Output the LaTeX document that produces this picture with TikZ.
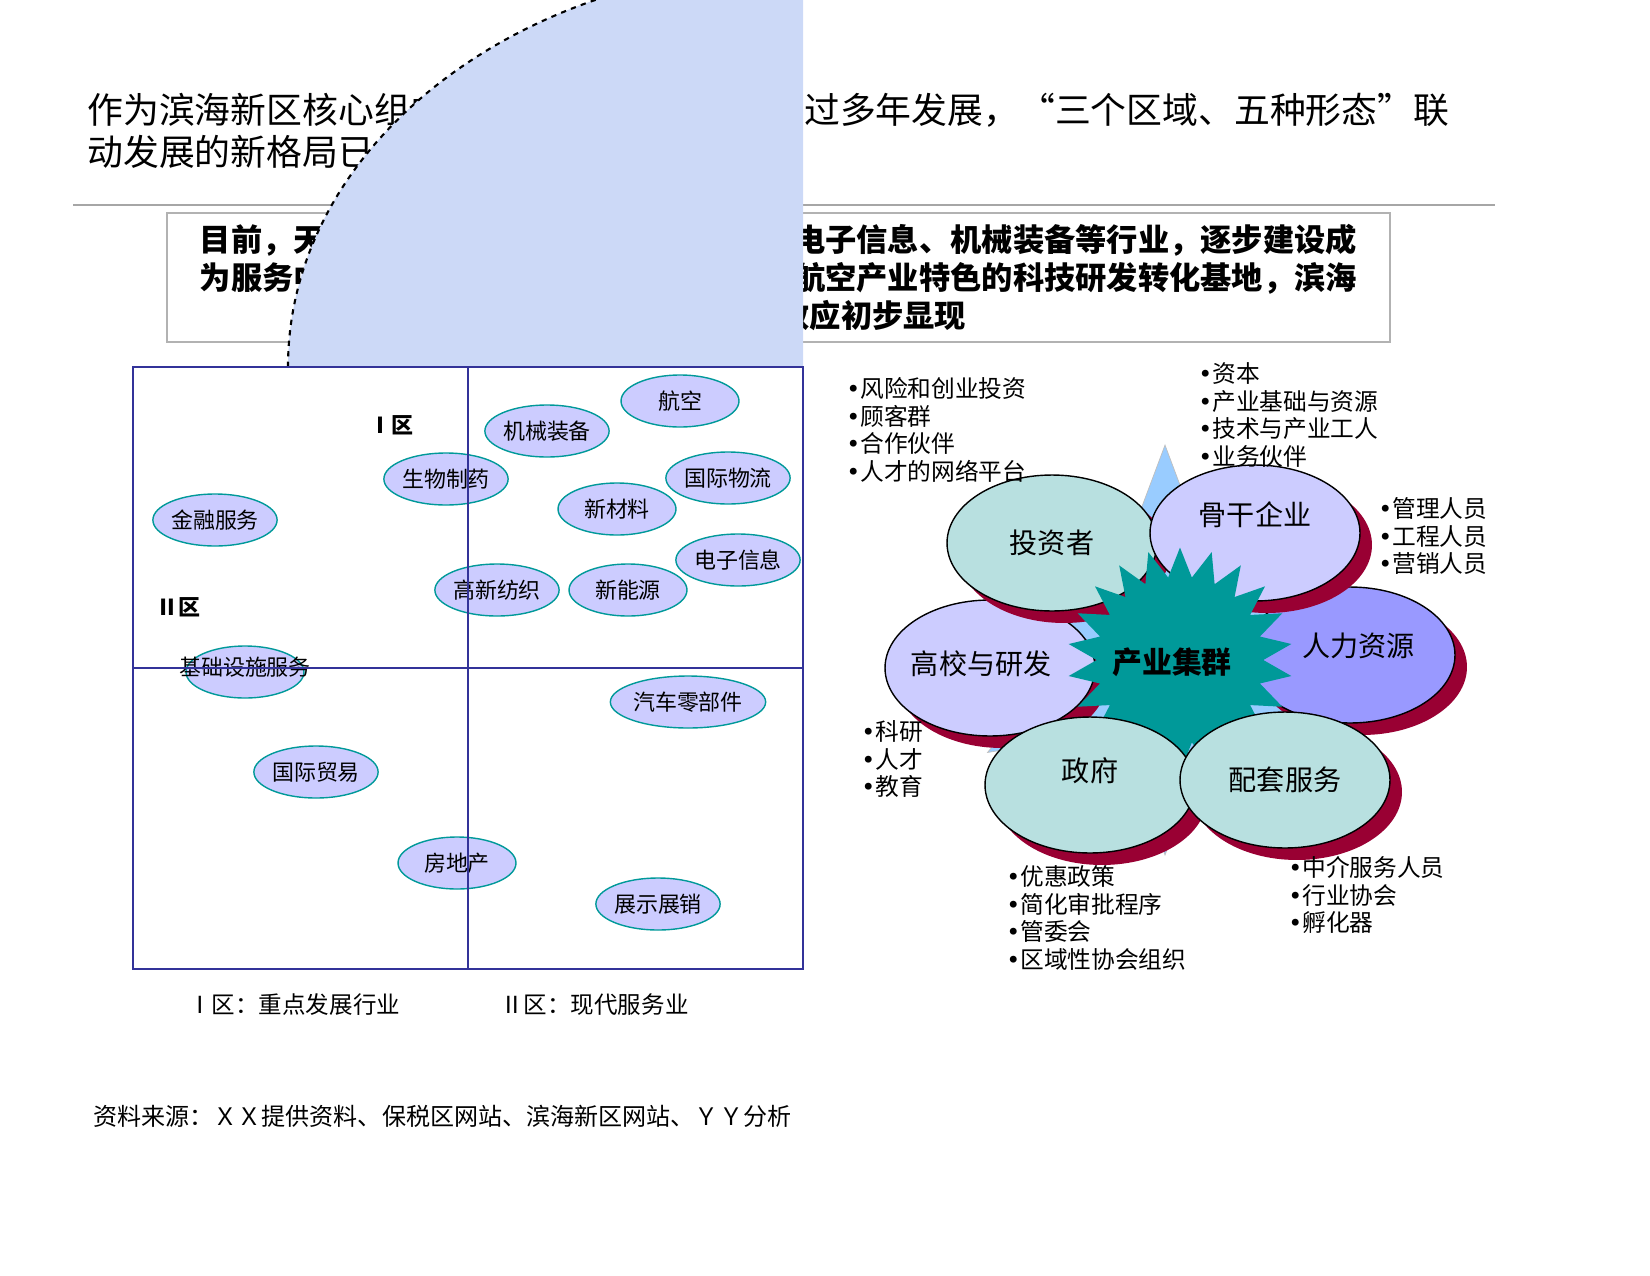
\documentclass[tikz,border=0pt]{standalone}
\usepackage{fontspec}
\setmainfont{Noto Sans CJK SC}
\newfontfamily\bulfont{DejaVu Sans}
\usetikzlibrary{shapes.geometric}
\definecolor{frameblue}{HTML}{333399}
\definecolor{zonefill}{HTML}{CCD9F7}
\definecolor{pillfill}{HTML}{CCCCFF}
\definecolor{pillline}{HTML}{009999}
\definecolor{tealfill}{HTML}{B8E0E0}
\definecolor{lilacfill}{HTML}{CCCCFF}
\definecolor{violetfill}{HTML}{9999FF}
\definecolor{shadowred}{HTML}{990033}
\definecolor{starteal}{HTML}{009999}
\definecolor{starblue}{HTML}{99CCFF}
\newcommand{\bul}{{\bulfont •}}
\tikzset{%
	pill/.style={
		ellipse,
		draw=pillline,
		thick,
		fill=pillfill,
		minimum width=2.36cm,
		minimum height=1.04cm,
		inner sep=0pt,
		font=\fontsize{12.5}{15}\selectfont
	},
	bigell/.style={
		ellipse,
		draw=black,
		thick,
		minimum width=4.2cm,
		minimum height=2.72cm,
		inner sep=0pt,
		font=\fontsize{16}{19}\selectfont
	},
	bigshade/.style={
		ellipse,
		fill=shadowred,
		minimum width=4.2cm,
		minimum height=2.72cm,
		inner sep=0pt
	},
	bullets/.style={
		anchor=north west,
		align=left,
		inner sep=0pt,
		font=\fontsize{13.5}{15.8}\selectfont
	},
}
\begin{document}
\begin{tikzpicture}[x=0.02cm, y=-0.02cm]
	\useasboundingbox (0,0) rectangle (1650,1275);

	% title
	\node[anchor=west, align=left, inner sep=0pt, font=\fontsize{20.4}{23.5}\selectfont] (title) at (87,131)
		{作为滨海新区核心组成部分的天津保税区，经过多年发展，“三个区域、五种形态”联\\动发展的新格局已经初具雏形};
	\draw[gray!70, thick] (73,205) -- (1495,205);
	\node[draw=gray!60, thick, minimum width=24.46cm, minimum height=2.58cm, inner sep=0pt] (box) at (778.5,277.5) {};
	\node[align=center, font=\bfseries\fontsize{17.8}{21.6}\selectfont] (boxtext) at (box.center)
		{目前，天津保税区正围绕国际物流、航空、电子信息、机械装备等行业，逐步建设成\\为服务中国北方的保税国际物流中心，具有航空产业特色的科技研发转化基地，滨海\\新区产业集群效应初步显现};

	% matrix
	\fill[zonefill] (288,367) arc[start angle=180, end angle=270, x radius=515, y radius=401] -- (803,367) -- cycle;
	\draw[very thick, dashed] (288,367) arc[start angle=180, end angle=270, x radius=515, y radius=401];
	\node[pill] (hk) at (680,401) {航空};
	\node[pill] (jx) at (547,431) {机械装备};
	\node[pill] (sw) at (446,479) {生物制药};
	\node[pill] (wl) at (728,478) {国际物流};
	\node[pill] (xc) at (617,509) {新材料};
	\node[pill] (jr) at (215,520) {金融服务};
	\node[pill] (dz) at (738,560) {电子信息};
	\node[pill] (fz) at (497,590) {高新纺织};
	\node[pill] (ny) at (628,590) {新能源};
	\node[pill] (jc) at (245,672) {};
	\node (jct) at (245,667) {\fontsize{12.5}{15}\selectfont 基础设施服务};
	\node[pill] (qc) at (688,702) {汽车零部件};
	\node[pill] (my) at (316,772) {国际贸易};
	\node[pill] (fd) at (457,863) {房地产};
	\node[pill] (zs) at (658,904) {展示展销};
	\draw[frameblue, thick] (133,367) rectangle (803,969);
	\draw[frameblue, thick] (468,367) -- (468,969);
	\draw[frameblue, thick] (133,668) -- (803,668);
	\node[font=\bfseries\fontsize{12.5}{15}\selectfont] (z1) at (391,425) {Ⅰ区};
	\node[font=\bfseries\fontsize{12.5}{15}\selectfont] (z2) at (178,607) {Ⅱ区};
	\node[anchor=west, font=\fontsize{13.4}{16}\selectfont] (n1) at (182,1005) {Ⅰ区：重点发展行业};
	\node[anchor=west, font=\fontsize{13.4}{16}\selectfont] (n2) at (494,1005) {Ⅱ区：现代服务业};

	% cluster
	\node[star, star points=6, star point ratio=2.2, fill=starblue, draw=gray!50, minimum size=8.2cm] (back) at (1165,650) {};
	\node[bigshade] (rls) at (1362,667) {};
	\node[bigell, fill=violetfill] (rl) at (1350,655) {\raisebox{12pt}{\hspace{10pt}人力资源}};
	\node[bigshade] (gxs) at (1002,680) {};
	\node[bigell, fill=lilacfill] (gx) at (990,668) {\raisebox{6pt}{\hspace{-10pt}高校与研发}};
	\node[bigshade] (tzs) at (1064,555) {};
	\node[bigell, fill=tealfill] (tz) at (1052,543) {投资者};
	\node[bigshade] (ggs) at (1267,545) {};
	\node[bigell, fill=lilacfill] (gg) at (1255,533) {\raisebox{22pt}{骨干企业}};
	\node[star, star points=22, star point ratio=1.35, fill=starteal, minimum width=4.5cm, minimum height=3.3cm, inner sep=0pt] (core) at (1180,660) {};
	\node[font=\bfseries\fontsize{17}{20}\selectfont] (coret) at (1172,662) {产业集群};
	\node[bigshade] (zfs) at (1102,797) {};
	\node[bigell, fill=tealfill] (zf) at (1090,785) {\raisebox{18pt}{政府}};
	\node[bigshade] (pts) at (1297,792) {};
	\node[bigell, fill=tealfill] (pt) at (1285,780) {配套服务};

	% bullet lists
	\node[bullets] (l1) at (846,377) {\bul 风险和创业投资\\\bul 顾客群\\\bul 合作伙伴\\\bul 人才的网络平台};
	\node[bullets] (l2) at (1198,362) {\bul 资本\\\bul 产业基础与资源\\\bul 技术与产业工人\\\bul 业务伙伴};
	\node[bullets] (l3) at (1378,497) {\bul 管理人员\\\bul 工程人员\\\bul 营销人员};
	\node[bullets] (l4) at (861,720) {\bul 科研\\\bul 人才\\\bul 教育};
	\node[bullets] (l5) at (1006,865) {\bul 优惠政策\\\bul 简化审批程序\\\bul 管委会\\\bul 区域性协会组织};
	\node[bullets] (l6) at (1288,856) {\bul 中介服务人员\\\bul 行业协会\\\bul 孵化器};

	% source
	\node[anchor=west, font=\fontsize{13.7}{16}\selectfont] (src) at (87,1116) {资料来源：ＸＸ提供资料、保税区网站、滨海新区网站、ＹＹ分析};
\end{tikzpicture}
\end{document}
